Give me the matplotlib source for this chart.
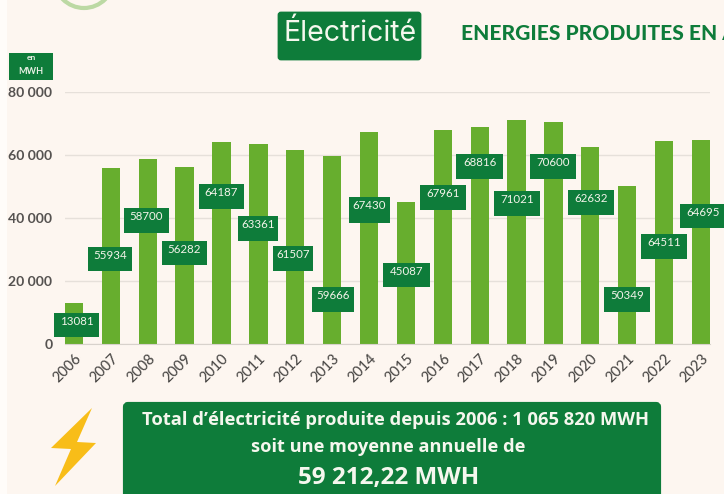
import matplotlib
matplotlib.use('Agg')
import matplotlib.pyplot as plt
from matplotlib.patches import Rectangle, FancyBboxPatch, Polygon, Circle
from matplotlib.transforms import ScaledTranslation

W, H = 724, 494
BG = '#fdf6f0'
BAR = '#67ae2e'
DARK = '#0e7c3a'

years = ['2006', '2007', '2008', '2009', '2010', '2011', '2012', '2013', '2014',
         '2015', '2016', '2017', '2018', '2019', '2020', '2021', '2022', '2023']
values = [13081, 55934, 58700, 56282, 64187, 63361, 61507, 59666, 67430,
          45087, 67961, 68816, 71021, 70600, 62632, 50349, 64511, 64695]
y_ticks = [0, 20000, 40000, 60000, 80000]
y_labels = ['0', '20 000', '40 000', '60 000', '80 000']

# label boxes, in picture pixels: left, right, top, bottom
boxes = [(54, 99, 313, 337), (88, 132, 247, 271), (124, 169, 208, 233),
         (162, 207, 241, 265), (199, 244, 184, 209), (238, 278, 216, 241),
         (273, 313, 246, 271), (312, 354, 287, 312), (349, 390, 197, 223),
         (383, 430, 263, 287), (420, 466, 185, 210), (456, 503, 154, 179),
         (494, 540, 191, 216), (530, 576, 154, 179), (568, 614, 190, 215),
         (604, 650, 287, 312), (641, 687, 234, 259), (680, 726, 204, 228)]

plt.rcParams['font.family'] = ['Lato', 'DejaVu Sans']
fig = plt.figure(figsize=(W / 100, H / 100), dpi=100, facecolor=BG)


def px(size):
    return size * 0.72


# chart
left, right, top, bottom = 65, 710, 92, 344.3
ax = fig.add_axes([left / W, 1 - bottom / H, (right - left) / W, (bottom - top) / H])
ax.set_facecolor('none')
x = list(range(len(years)))
ax.bar(x, values, width=0.497, color=BAR, zorder=2)
ax.set_xlim((left - 74) / 36.88, (right - 74) / 36.88)
ax.set_ylim(0, 80000)
ax.set_yticks(y_ticks)
ax.set_yticklabels(y_labels, fontsize=px(14), color='#555250', fontweight='bold')
ax.set_xticks(x)
ax.set_xticklabels(years, rotation=45, ha='right', rotation_mode='anchor',
                   fontsize=px(14.5), color='#4c4a48', fontweight='medium')
shift = ScaledTranslation(8 / 100, 0, fig.dpi_scale_trans)
for lab in ax.get_xticklabels():
    lab.set_transform(lab.get_transform() + shift)
ax.tick_params(axis='both', length=0)
ax.tick_params(axis='y', pad=9)
ax.tick_params(axis='x', pad=5)
ax.grid(axis='y', color='#e6e0da', linewidth=1, zorder=0)
for s in ['top', 'right', 'left']:
    ax.spines[s].set_visible(False)
ax.spines['bottom'].set_color('#d8d2cc')

# everything else is laid out in picture pixels
over = fig.add_axes([0, 0, 1, 1], zorder=5)
over.set_xlim(0, W)
over.set_ylim(H, 0)
over.axis('off')

over.add_patch(Rectangle((0, 0), 7, H, color='#fffcf9', lw=0))
over.add_patch(Circle((84, -22), 30, fill=False, edgecolor='#bcd9a4', lw=3))

# value labels
for val, (l, r, t, b) in zip(values, boxes):
    over.add_patch(Rectangle((l, t), r - l, b - t, color=DARK, lw=0))
    over.text((l + r) / 2, t + 8.5, str(val), color='#f4f4ea', fontsize=px(11.5),
              ha='center', va='center')

# unit tag
over.add_patch(Rectangle((9, 53), 44, 27, color=DARK, lw=0))
over.text(31, 57, 'en', color='#e8f0e4', fontsize=px(8.5), ha='center', va='center',
          fontweight='bold')
over.text(31, 72, 'MWH', color='#e8f0e4', fontsize=px(9), ha='center', va='center',
          fontweight='bold')

# titles
over.add_patch(FancyBboxPatch((279, 13), 141, 46, boxstyle='round,pad=0,rounding_size=2',
                              mutation_aspect=1, facecolor=DARK, edgecolor=DARK, lw=2))
over.text(350, 33, 'Électricité', color='#f5f8ee', fontsize=px(28.5), ha='center',
          va='center', family=['Inter', 'DejaVu Sans'])
over.text(461, 34, 'ENERGIES PRODUITES EN A', color=DARK, fontsize=px(21),
          ha='left', va='center', fontweight='black', clip_on=True)

# bottom panel
over.add_patch(FancyBboxPatch((125, 404), 534, 100, boxstyle='round,pad=0,rounding_size=3',
                              facecolor=DARK, edgecolor=DARK, lw=3))
panel_font = ['Open Sans', 'DejaVu Sans']
over.text(395, 420, "Total d’électricité produite depuis 2006 : 1 065 820 MWH", color='#f5f7ee',
          fontsize=px(18.4), ha='center', va='center', fontweight='bold', family=panel_font)
over.text(388, 447, 'soit une moyenne annuelle de', color='#f5f7ee',
          fontsize=px(18.3), ha='center', va='center', fontweight='bold', family=panel_font)
over.text(389, 478, '59 212,22 MWH', color='#f5f7ee',
          fontsize=px(24.3), ha='center', va='center', fontweight='bold', family=panel_font)

# lightning bolt
over.add_patch(Polygon([(92, 408), (51, 448), (71, 449), (55, 486), (96, 443), (77, 442)],
                       closed=True, facecolor='#f8bd18', edgecolor='none'))

fig.savefig('out.png', dpi=100, facecolor=BG)
